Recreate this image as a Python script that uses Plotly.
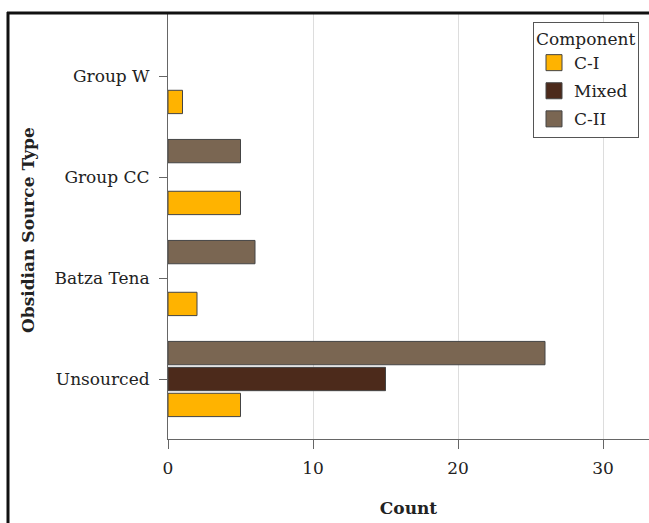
import plotly.graph_objects as go

categories = ["Unsourced", "Batza Tena", "Group CC", "Group W"]
series_names = ["C-I", "Mixed", "C-II"]
c1_values = [5, 2, 5, 1]
mixed_values = [15, None, None, None]
c2_values = [26, 6, 5, None]
tick_values = [0, 10, 20, 30]

colors = {"C-I": "#FFB300", "Mixed": "#4C2A1B", "C-II": "#7A6652"}
font_family = "DejaVu Serif, Liberation Serif, serif"

fig = go.Figure()
for name, vals in zip(series_names, [c1_values, mixed_values, c2_values]):
    fig.add_trace(go.Bar(
        y=categories, x=vals, name=name, orientation="h", legendgroup=name,
        showlegend=False,
        marker=dict(color=colors[name], line=dict(color="#444444", width=1)),
    ))
# legend entries with larger square swatches
for name in series_names:
    fig.add_trace(go.Scatter(
        x=[None], y=[None], mode="markers", name=name, legendgroup=name,
        marker=dict(symbol="square", size=16, color=colors[name],
                    line=dict(color="#444444", width=1)),
        hoverinfo="skip",
    ))

W, H = 649, 523
L, T, B, R = 168, 12, 523 - 439, 0
pw, ph = W - L - R, H - T - B

def px_x(x):
    return (x - L) / pw

def px_y(y):
    return (H - B - y) / ph

fig.update_layout(
    width=W, height=H,
    margin=dict(l=L, r=R, t=T, b=B, pad=0),
    barmode="group", bargap=0.23, bargroupgap=0.1,
    plot_bgcolor="white", paper_bgcolor="white",
    font=dict(family=font_family, size=17, color="#222222"),
    showlegend=True,
    legend=dict(
        title=dict(text="Component", side="top", font=dict(size=17)),
        traceorder="grouped",
        x=px_x(639), xanchor="right",
        y=px_y(22), yanchor="top",
        bordercolor="#555555", borderwidth=1, bgcolor="white",
        font=dict(size=17), itemsizing="trace",
        tracegroupgap=3,
    ),
    xaxis=dict(
        range=[0, pw / 14.5], tickvals=tick_values,
        showgrid=True, gridcolor="#dddddd", gridwidth=1,
        showline=True, linecolor="#666666", linewidth=1,
        ticks="outside", ticklen=9, tickcolor="#666666",
        zeroline=False, ticklabelstandoff=5,
        title=dict(text="<b>Count</b>", standoff=24, font=dict(size=17)),
        tickfont=dict(size=17),
    ),
    yaxis=dict(
        categoryorder="array", categoryarray=categories,
        range=[-0.594, 3.634],
        showline=True, linecolor="#666666", linewidth=1,
        ticks="outside", ticklen=8, tickcolor="#666666",
        showgrid=False, zeroline=False, ticklabelstandoff=6,
        tickfont=dict(size=17),
    ),
    annotations=[dict(
        text="<b>Obsidian Source Type</b>", textangle=-90,
        xref="paper", yref="paper",
        x=px_x(28), y=px_y(230), xanchor="center", yanchor="middle",
        showarrow=False, font=dict(size=17),
    )],
    shapes=[
        dict(type="line", xref="paper", yref="paper",
             x0=px_x(7), x1=1.02, y0=px_y(13), y1=px_y(13),
             line=dict(color="#111111", width=3)),
        dict(type="line", xref="paper", yref="paper",
             x0=px_x(8), x1=px_x(8), y0=px_y(12), y1=px_y(540),
             line=dict(color="#111111", width=3)),
    ],
)

fig.write_html(
    "out.html",
    config={"displayModeBar": False},
    post_script="document.body.style.margin='0';document.body.style.overflow='hidden';",
)
